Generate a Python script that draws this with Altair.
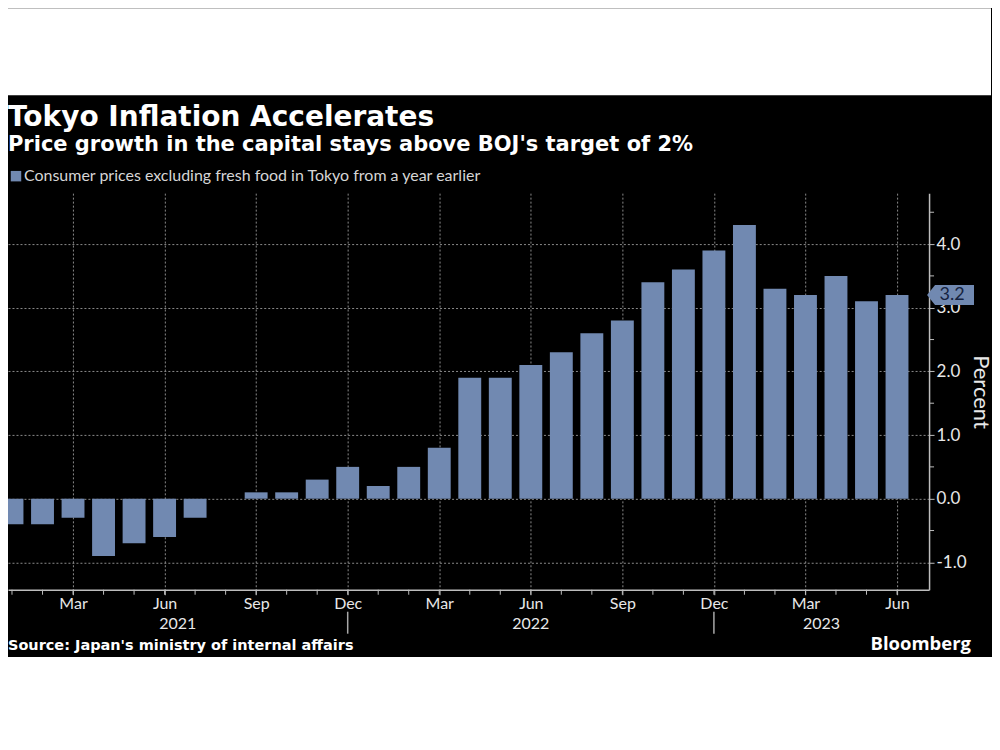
import altair as alt
import pandas as pd

# ---------------- data ----------------
months = ["Jan", "Feb", "Mar", "Apr", "May", "Jun", "Jul", "Aug", "Sep", "Oct", "Nov", "Dec"]
years = [2021] * 12 + [2022] * 12 + [2023] * 6
values = [-0.4, -0.4, -0.3, -0.9, -0.7, -0.6, -0.3, 0.0, 0.1, 0.1, 0.3, 0.5,
          0.2, 0.5, 0.8, 1.9, 1.9, 2.1, 2.3, 2.6, 2.8, 3.4, 3.6, 3.9,
          4.3, 3.3, 3.2, 3.5, 3.1, 3.2]
series_name = "Consumer prices excluding fresh food in Tokyo from a year earlier"
year_labels = [2021, 2022, 2023]
y_major = [-1.0, 0.0, 1.0, 2.0, 3.0, 4.0]
y_minor = [-0.5, 0.5, 1.5, 2.5, 3.5, 4.5]
title_text = "Tokyo Inflation Accelerates"
subtitle_text = "Price growth in the capital stays above BOJ's target of 2%"
source_text = "Source: Japan's ministry of internal affairs"
brand_text = "Bloomberg"

df = pd.DataFrame({
    "idx": list(range(len(values))),
    "month": [months[i % 12] for i in range(len(values))],
    "year": years,
    "value": values,
    "series": [series_name] * len(values),
})

# year separators at December of each year that is followed by another year
dec_idx = [i for i in range(len(values) - 1) if years[i] != years[i + 1]]
quarter_idx = [i for i in range(len(values)) if i % 3 == 2]

# ---------------- styles ----------------
W, H = 922, 397
XMIN, XMAX = -0.131, 30.05
BAR = "#7189b1"
TXT = "#e8e8e8"
AXC = "#bdbdbd"
GRID = "#8a8a8a"
BOLD = "DejaVu Sans"
REG = "Lato"

xs = alt.Scale(domain=[XMIN, XMAX], nice=False, zero=False)
ys = alt.Scale(domain=[-1.43, 4.8], nice=False, zero=False)

bounds = [XMIN] + dec_idx + [XMAX]
year_df = pd.DataFrame({
    "year": [str(y) for y in year_labels],
    "pos": [(bounds[k] + bounds[k + 1]) / 2 for k in range(len(year_labels))],
})
div_df = pd.DataFrame({"pos": dec_idx})
ymin_df = pd.DataFrame({"v": y_minor})

month_arr = "[" + ",".join("'%s'" % m for m in months) + "]"

x_axis = alt.Axis(
    values=quarter_idx,
    labelExpr=month_arr + "[datum.value % 12]",
    tickSize=5, tickColor=AXC, tickWidth=1,
    domainColor=AXC, domainWidth=1.5,
    labelColor=TXT, labelFont=REG, labelFontSize=16, labelPadding=1,
    labelFlush=False, labelOverlap=False,
    grid=True, gridDash=[2, 2], gridColor=GRID, gridWidth=1,
    title=None,
)

y_axis = alt.Axis(
    orient="right",
    values=y_major,
    labelExpr="replace(format(datum.value, '.1f'), '\u2212', '-')",
    tickSize=5, tickColor=AXC, tickWidth=1,
    domainColor=AXC, domainWidth=1.5,
    labelColor=TXT, labelFont=REG, labelFontSize=17, labelPadding=2,
    labelFlush=False, labelOverlap=False,
    grid=True, gridDash=[2, 2], gridColor=GRID, gridWidth=1,
    title="Percent", titleColor=TXT, titleFont=REG, titleFontSize=22,
    titleFontWeight="normal", titleAngle=90, titlePadding=2,
)

bars = alt.Chart(df).transform_calculate(
    x0="datum.idx - 0.375", x1="datum.idx + 0.375"
).mark_bar(clip=True).encode(
    x=alt.X("x0:Q", scale=xs, axis=x_axis),
    x2="x1:Q",
    y=alt.Y("value:Q", scale=ys, axis=y_axis),
    y2=alt.datum(0),
    color=alt.Color("series:N", scale=alt.Scale(range=[BAR]),
                    legend=alt.Legend(orient="none", legendX=0, legendY=-25, title=None,
                                      symbolType="square", symbolSize=110, symbolStrokeWidth=0,
                                      symbolFillColor=BAR, labelFontSize=16, labelColor="#d6d6d6",
                                      labelFont=REG, labelOffset=0, padding=0, labelLimit=800)),
)

# monthly minor ticks below the x axis
x_minor = alt.Chart(df).mark_rule(color=AXC, strokeWidth=1).encode(
    x=alt.X("idx:Q", axis=x_axis), y=alt.value(H), y2=alt.value(H + 5)
)
# half-step minor ticks on the y axis
y_minor_ticks = alt.Chart(ymin_df).mark_rule(color=AXC, strokeWidth=1).encode(
    y=alt.Y("v:Q", axis=y_axis), x=alt.value(W), x2=alt.value(W + 5)
)

last = df.tail(1)
flag = alt.Chart(last).mark_point(
    shape="M -2 0 L 6 -10 L 45 -10 L 45 10 L 6 10 Z",
    size=4, filled=True, fill=BAR, opacity=1, strokeWidth=0, clip=False,
).encode(x=alt.X(datum=XMAX, axis=x_axis), y=alt.Y("value:Q", axis=y_axis))

flag_text = alt.Chart(last).mark_text(
    dx=23, align="center", baseline="middle", font=REG, fontSize=18, color="#15223f", clip=False,
).encode(x=alt.X(datum=XMAX, axis=x_axis), y=alt.Y("value:Q", axis=y_axis),
         text=alt.Text("value:Q", format=".1f"))

years_txt = alt.Chart(year_df).mark_text(
    baseline="alphabetic", align="center", font=REG, fontSize=16, color=TXT, clip=False,
).encode(x=alt.X("pos:Q", axis=x_axis), y=alt.value(H + 39), text="year:N")

dividers = alt.Chart(div_df).mark_rule(color="#a8a8a8", strokeWidth=1.5).encode(
    x=alt.X("pos:Q", axis=x_axis), y=alt.value(H + 22), y2=alt.value(H + 44)
)

source = alt.Chart(pd.DataFrame({"t": [source_text]})).mark_text(
    align="left", baseline="alphabetic", font=BOLD, fontWeight="bold", fontSize=14.5, color="white",
).encode(x=alt.value(0), y=alt.value(H + 60), text="t:N")

brand = alt.Chart(pd.DataFrame({"t": [brand_text]})).mark_text(
    align="right", baseline="alphabetic", font="Open Sans", fontWeight="bold", fontSize=18.5, color="white",
).encode(x=alt.value(W + 42), y=alt.value(H + 60), text="t:N")

main = alt.layer(bars, x_minor, y_minor_ticks, flag, flag_text, years_txt, dividers, source, brand).properties(
    width=W, height=H,
    title=alt.TitleParams(
        text=title_text, subtitle=subtitle_text, anchor="start", frame="group",
        font=BOLD, fontSize=28, fontWeight="bold", color="white",
        subtitleFont=BOLD, subtitleFontSize=21, subtitleFontWeight="bold", subtitleColor="white",
        subtitlePadding=2, offset=13,
    ),
)

spacer = alt.Chart(pd.DataFrame({"v": [0]})).mark_point(opacity=0, size=1).encode(
    x=alt.value(5), y=alt.value(5)
).properties(width=984, height=87, view=alt.ViewBackground(fill="white", stroke=None))

chart = alt.vconcat(spacer, main, spacing=9).resolve_legend(color="independent").properties(
    background="black", padding={"left": 0, "top": 0, "right": 0, "bottom": 3},
).configure_view(stroke=None)

chart.save("out.html", embed_options={"renderer": "svg", "actions": False})
